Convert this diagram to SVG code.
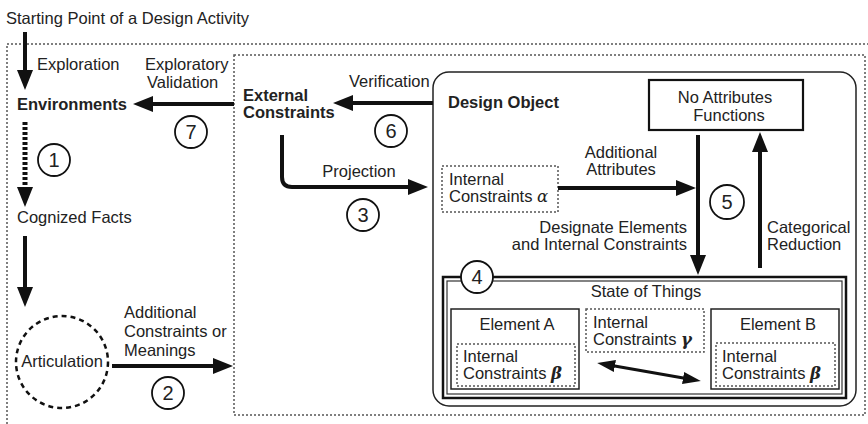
<svg xmlns="http://www.w3.org/2000/svg" width="868" height="424" viewBox="0 0 868 424">
<defs>
<marker id="ah" viewBox="0 0 20 16" refX="8" refY="8" markerWidth="20" markerHeight="16" markerUnits="userSpaceOnUse" orient="auto"><path d="M0,0 L20,8 L0,16 z" fill="#111"/></marker>
<marker id="ahs" viewBox="0 0 18 12" refX="6" refY="6" markerWidth="18" markerHeight="12" markerUnits="userSpaceOnUse" orient="auto-start-reverse"><path d="M0,0 L18,6 L0,12 z" fill="#111"/></marker>
</defs>
<style>
text{font-family:"Liberation Sans",Arial,sans-serif;font-size:16.5px;fill:#222}
.b{font-weight:bold}
.num{font-size:20px;text-anchor:middle}
.mid{text-anchor:middle}
.end{text-anchor:end}
.dot{fill:none;stroke:#555;stroke-width:1.5;stroke-dasharray:2 2}
.box{fill:none;stroke:#222;stroke-width:1.5}
.circ{fill:#fff;stroke:#111;stroke-width:1.8}
.arr{fill:none;stroke:#111;stroke-width:4;marker-end:url(#ah)}
</style>
<rect width="868" height="424" fill="#fff"/>

<g id="frames">
<rect class="dot" x="7" y="44" width="870" height="390"/>
<rect class="dot" x="234" y="55" width="631" height="360"/>
</g>

<g id="start"><text x="6" y="24">Starting Point of a Design Activity</text></g>
<g id="environments"><text class="b" x="17" y="110">Environments</text></g>
<g id="cognized"><text x="17" y="223">Cognized Facts</text></g>
<g id="articulation">
<circle cx="62" cy="362" r="46" fill="none" stroke="#111" stroke-width="2.5" stroke-dasharray="5 4"/>
<text class="mid" x="62" y="367">Articulation</text>
</g>
<g id="external"><text class="b" x="243" y="101">External</text><text class="b" x="243" y="118">Constraints</text></g>

<g id="design-object">
<rect class="box" x="433" y="72" width="423" height="334" rx="16"/>
<text class="b" x="448" y="108">Design Object</text>
</g>
<g id="no-attributes">
<rect x="649" y="80" width="154" height="50" fill="#fff" stroke="#111" stroke-width="2.2"/>
<text class="mid" x="725" y="103">No Attributes</text>
<text class="mid" x="729" y="121">Functions</text>
</g>
<g id="internal-alpha">
<rect class="dot" x="442" y="166" width="116" height="46"/>
<text x="449" y="185">Internal</text>
<text x="449" y="202">Constraints <tspan font-family="'DejaVu Serif',serif" font-style="italic">α</tspan></text>
</g>
<g id="state-of-things">
<rect x="443" y="277" width="403" height="121" fill="none" stroke="#111" stroke-width="2.5"/>
<rect x="447" y="281" width="395" height="113" fill="none" stroke="#333" stroke-width="1.2"/>
<text class="mid" x="646" y="297">State of Things</text>
</g>
<g id="element-a">
<rect class="box" x="451" y="309" width="128" height="80"/>
<text class="mid" x="517" y="330">Element A</text>
<rect class="dot" x="457" y="344" width="118" height="42"/>
<text x="463" y="362">Internal</text>
<text x="463" y="379">Constraints <tspan font-family="'DejaVu Serif',serif" font-style="italic" font-weight="bold">β</tspan></text>
</g>
<g id="internal-gamma">
<rect class="dot" x="586" y="309" width="118" height="43"/>
<text x="593" y="328">Internal</text>
<text x="593" y="345">Constraints <tspan font-family="'DejaVu Serif',serif" font-style="italic" font-weight="bold">γ</tspan></text>
</g>
<g id="element-b">
<rect class="box" x="711" y="309" width="128" height="80"/>
<text class="mid" x="778" y="330">Element B</text>
<rect class="dot" x="716" y="343" width="119" height="43"/>
<text x="722" y="362">Internal</text>
<text x="722" y="379">Constraints <tspan font-family="'DejaVu Serif',serif" font-style="italic" font-weight="bold">β</tspan></text>
</g>

<g id="connectors">
<line class="arr" x1="25" y1="32" x2="25" y2="78"/>
<line x1="25" y1="122" x2="25" y2="195" stroke="#111" stroke-width="5" stroke-dasharray="3 2" marker-end="url(#ah)"/>
<line class="arr" x1="25" y1="236" x2="25" y2="295"/>
<line class="arr" x1="112" y1="366" x2="221" y2="366"/>
<line class="arr" x1="234" y1="104" x2="145" y2="104"/>
<line class="arr" x1="433" y1="103" x2="345" y2="103"/>
<path class="arr" d="M282,135 L282,177 Q282,187 292,187 L416,187"/>
<line class="arr" x1="558" y1="188" x2="684" y2="188"/>
<line class="arr" x1="698" y1="135" x2="698" y2="263"/>
<line class="arr" x1="760" y1="268" x2="760" y2="144"/>
<line x1="609" y1="365" x2="689" y2="379" stroke="#111" stroke-width="3" marker-start="url(#ahs)" marker-end="url(#ahs)"/>
</g>

<g id="labels">
<text x="37" y="70">Exploration</text>
<text x="145" y="70">Exploratory</text>
<text x="147" y="88">Validation</text>
<text x="124" y="318">Additional</text>
<text x="124" y="337">Constraints or</text>
<text x="124" y="356">Meanings</text>
<text x="349" y="87">Verification</text>
<text class="mid" x="359" y="177">Projection</text>
<text class="mid" x="621" y="158">Additional</text>
<text class="mid" x="621" y="175">Attributes</text>
<text class="end" x="687" y="233">Designate Elements</text>
<text class="end" x="687" y="250">and Internal Constraints</text>
<text x="767" y="233">Categorical</text>
<text x="767" y="250">Reduction</text>
</g>

<g id="numbers">
<circle class="circ" cx="54" cy="160" r="16"/><text class="num" x="54" y="167">1</text>
<circle class="circ" cx="168" cy="393" r="16"/><text class="num" x="168" y="400">2</text>
<circle class="circ" cx="363" cy="215" r="16"/><text class="num" x="363" y="222">3</text>
<circle class="circ" cx="477" cy="277" r="16"/><text class="num" x="477" y="284">4</text>
<circle class="circ" cx="727" cy="202" r="17"/><text class="num" x="727" y="209">5</text>
<circle class="circ" cx="391" cy="131" r="16"/><text class="num" x="391" y="138">6</text>
<circle class="circ" cx="191" cy="132" r="16"/><text class="num" x="191" y="139">7</text>
</g>
</svg>
